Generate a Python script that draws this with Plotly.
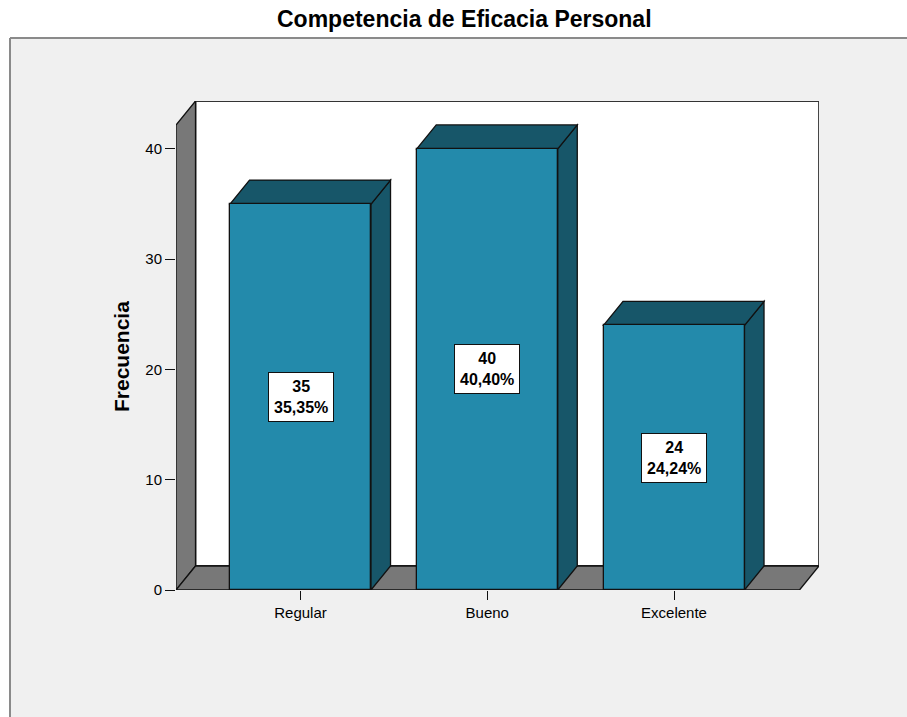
import plotly.graph_objects as go

# Datos: frecuencia por nivel de competencia
categorias = ["Regular", "Bueno", "Excelente"]
frecuencias = [35, 40, 24]
ticks_y = [0, 10, 20, 30, 40]

total = sum(frecuencias)
porcentajes = [f / total * 100 for f in frecuencias]

# Geometria del grafico 3D (unidades de datos)
ANCHO = 0.755          # ancho de la cara frontal de cada barra
DX, DY = 0.1045, 2.177  # desplazamiento de profundidad
X_MIN, X_MAX = -0.6667, 2.7764
Y_MAX = 44.35
Y_PARED = Y_MAX - DY   # altura frontal de la pared izquierda

# Colores
AZUL = "#238AAB"
AZUL_OSCURO = "#175669"
GRIS = "#787878"
BORDE = "#111111"
FONDO = "#F0F0F0"
FUENTE = "Liberation Sans, Arial, sans-serif"

# Margenes del area de trazado (px)
ML, MR, MT, MB = 176, 88, 101, 127
W, H = 907, 717
PW, PH = W - ML - MR, H - MT - MB


def px_x(px):
    return (px - ML) / PW


def px_y(py):
    return (H - MB - py) / PH


def poligono(puntos, relleno, borde=BORDE, grosor=1.3):
    ruta = "M " + " L ".join(f"{x},{y}" for x, y in puntos) + " Z"
    return dict(type="path", path=ruta, xref="x", yref="y",
                fillcolor=relleno, line=dict(color=borde, width=grosor),
                layer="below")


formas = []

# Marco exterior del visor (fondo gris con borde superior e izquierdo)
formas.append(dict(type="rect", xref="paper", yref="paper",
                   x0=px_x(10), x1=px_x(W + 5), y0=px_y(H + 5), y1=px_y(38),
                   fillcolor=FONDO, line=dict(width=0), layer="below"))
formas.append(dict(type="line", xref="paper", yref="paper",
                   x0=px_x(10), x1=px_x(W + 5), y0=px_y(38), y1=px_y(38),
                   line=dict(color="#8A8A8A", width=2), layer="below"))
formas.append(dict(type="line", xref="paper", yref="paper",
                   x0=px_x(10), x1=px_x(10), y0=px_y(38), y1=px_y(H + 5),
                   line=dict(color="#8A8A8A", width=2), layer="below"))

# Pared del fondo
formas.append(poligono([(X_MIN + DX, DY), (X_MAX, DY), (X_MAX, Y_MAX),
                        (X_MIN + DX, Y_MAX)], "white", borde="#333333", grosor=1.8))
# Pared izquierda
formas.append(poligono([(X_MIN, 0), (X_MIN + DX, DY), (X_MIN + DX, Y_MAX),
                        (X_MIN, Y_PARED)], GRIS))
# Suelo
formas.append(poligono([(X_MIN, 0), (X_MAX - DX, 0), (X_MAX, DY),
                        (X_MIN + DX, DY)], GRIS))

# Caras superior y lateral de cada barra
for i, v in enumerate(frecuencias):
    x0, x1 = i - ANCHO / 2, i + ANCHO / 2
    formas.append(poligono([(x1, 0), (x1 + DX, DY), (x1 + DX, v + DY), (x1, v)],
                           AZUL_OSCURO))
    formas.append(poligono([(x0, v), (x1, v), (x1 + DX, v + DY), (x0 + DX, v + DY)],
                           AZUL_OSCURO))

fig = go.Figure()
fig.add_trace(go.Bar(
    x=list(range(len(categorias))), y=frecuencias, width=ANCHO,
    marker=dict(color=AZUL, line=dict(color=BORDE, width=1.3)),
    hoverinfo="skip", showlegend=False,
))

anotaciones = []
for i, (v, p) in enumerate(zip(frecuencias, porcentajes)):
    texto = f"<b>{v}<br>{p:.2f}%</b>".replace(".", ",")
    anotaciones.append(dict(
        x=i, y=v / 2, xref="x", yref="y", text=texto, showarrow=False,
        bgcolor="white", bordercolor=BORDE, borderwidth=1, borderpad=5,
        font=dict(family=FUENTE, size=16, color="black"),
    ))

anotaciones.append(dict(
    x=px_x(464), y=px_y(19), xref="paper", yref="paper",
    text="<b>Competencia de Eficacia Personal</b>", showarrow=False,
    xanchor="center", yanchor="middle",
    font=dict(family=FUENTE, size=23, color="black"),
))
anotaciones.append(dict(
    x=px_x(121), y=px_y(357), xref="paper", yref="paper",
    text="<b>Frecuencia</b>", showarrow=False, textangle=-90,
    xanchor="center", yanchor="middle",
    font=dict(family=FUENTE, size=21, color="black"),
))

fig.update_layout(
    width=W, height=H,
    margin=dict(l=ML, r=MR, t=MT, b=MB, autoexpand=False),
    paper_bgcolor="white", plot_bgcolor="rgba(0,0,0,0)",
    shapes=formas, annotations=anotaciones,
    xaxis=dict(range=[X_MIN, X_MAX], tickvals=list(range(len(categorias))),
               ticktext=categorias, ticks="outside", ticklen=9,
               tickcolor=BORDE, tickwidth=1.2, showgrid=False, zeroline=False,
               showline=False, tickfont=dict(family=FUENTE, size=15, color="black")),
    yaxis=dict(range=[0, Y_MAX], tickvals=ticks_y, ticks="outside", ticklen=10,
               tickcolor=BORDE, tickwidth=1.2, showgrid=False, zeroline=False,
               showline=False, tickfont=dict(family=FUENTE, size=15, color="black")),
    bargap=0,
)

fig.write_html("out.html")
